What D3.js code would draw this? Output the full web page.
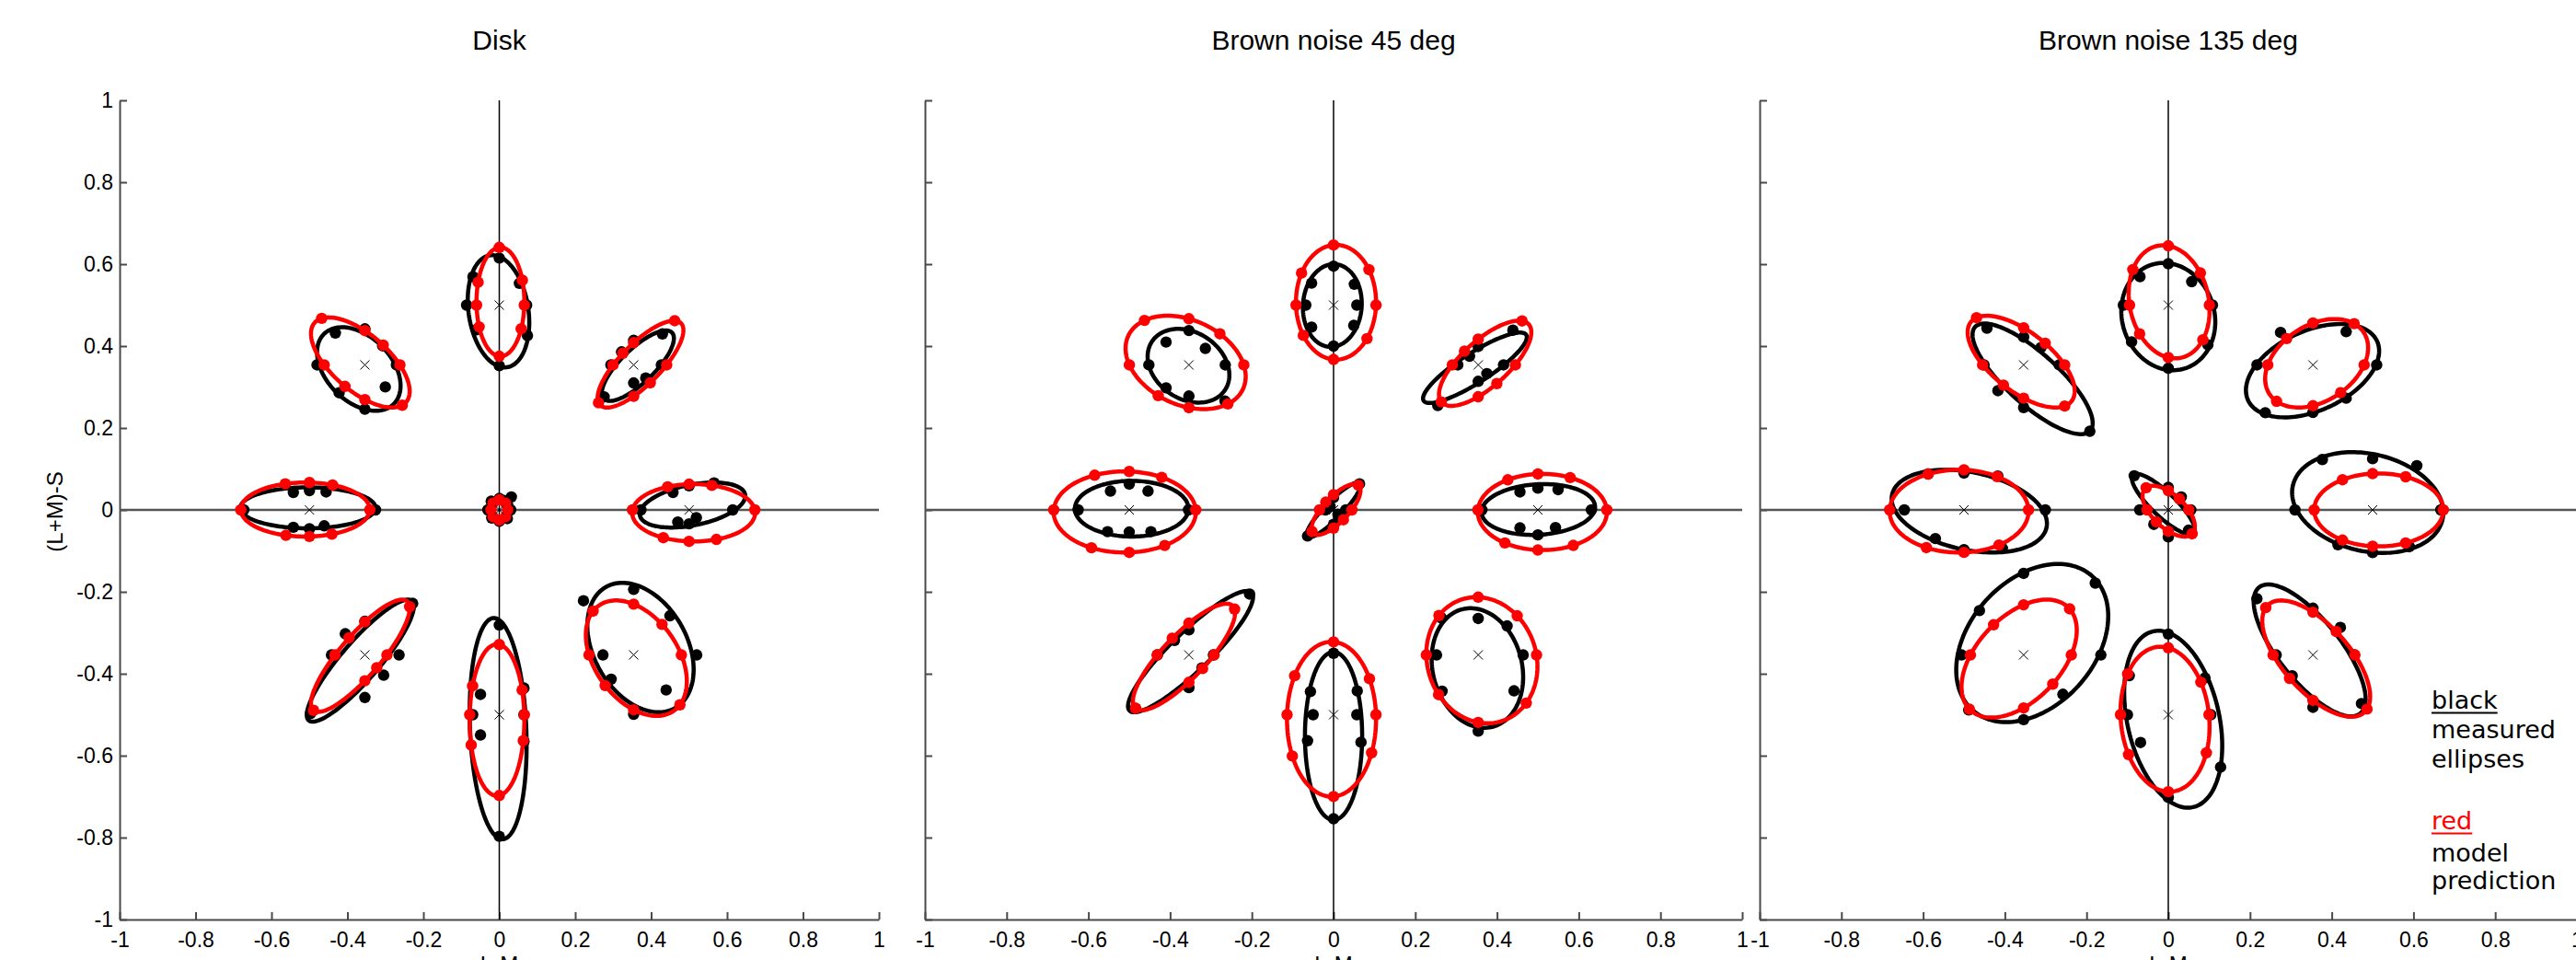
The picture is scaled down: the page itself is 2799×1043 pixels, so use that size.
<!DOCTYPE html>
<html>
<head>
<meta charset="utf-8">
<script src="https://cdn.jsdelivr.net/npm/d3@7"></script>
<style>
  body { margin: 0; background: #fff; }
  svg { display: block; }
</style>
</head>
<body>
<div id="chart"></div>
<script>
var panelTitles = ["Disk", "Brown noise 45 deg", "Brown noise 135 deg"];
var tickValues = [-1, -0.8, -0.6, -0.4, -0.2, 0, 0.2, 0.4, 0.6, 0.8, 1];
var xLabel = "L-M";
var yLabel = "(L+M)-S";

// test directions (deg) of the 8 measurements around each reference
var directions = [0, 45, 90, 135, 180, 225, 270, 315];
// reference points, order: E, NE, N, NW, W, SW, S, SE, centre
var references = [[0.5, 0], [0.354, 0.354], [0, 0.5], [-0.354, 0.354], [-0.5, 0],
                  [-0.354, -0.354], [0, -0.5], [0.354, -0.354], [0, 0]];

// ellipses: [cx, cy, sx, sy, rho]  (x half width, y half height, correlation)
var diskMeasuredEllipses = [
    [0.509, 0.012, 0.139, 0.055, 0.4], [0.365, 0.352, 0.095, 0.086, 0.78],
    [-0.002, 0.485, 0.081, 0.137, -0.2], [-0.37, 0.344, 0.11, 0.102, -0.4],
    [-0.504, 0.005, 0.178, 0.05, 0.0], [-0.366, -0.368, 0.141, 0.149, 0.89],
    [-0.003, -0.534, 0.075, 0.27, -0.15], [0.372, -0.336, 0.14, 0.158, -0.34],
    [0.002, 0.002, 0.03, 0.03, 0.2]
];
var diskModelEllipses = [
    [0.512, -0.007, 0.162, 0.07, 0], [0.372, 0.356, 0.113, 0.106, 0.78],
    [0.003, 0.508, 0.063, 0.133, 0], [-0.366, 0.36, 0.13, 0.11, -0.64],
    [-0.511, 0.001, 0.17, 0.066, 0], [-0.366, -0.356, 0.13, 0.137, 0.85],
    [-0.006, -0.513, 0.072, 0.185, 0], [0.361, -0.362, 0.133, 0.141, -0.4],
    [0, 0, 0.022, 0.025, 0]
];
// measured threshold distance along each test direction
var diskMeasuredRadii = [
    [0.115, 0.093, 0.059, 0.06, 0.127, 0.042, 0.034, 0.027],
    [0.073, 0.107, 0.06, 0.045, 0.06, 0.11, 0.044, 0.045],
    [0.072, 0.075, 0.115, 0.098, 0.086, 0.085, 0.148, 0.105],
    [0.083, 0.066, 0.088, 0.11, 0.126, 0.096, 0.108, 0.076],
    [0.174, 0.062, 0.047, 0.06, 0.173, 0.06, 0.046, 0.055],
    [0.09, 0.178, 0.082, 0.073, 0.088, 0.203, 0.104, 0.07],
    [0.065, 0.092, 0.219, 0.07, 0.07, 0.07, 0.297, 0.092],
    [0.166, 0.135, 0.16, 0.187, 0.081, 0.084, 0.145, 0.121],
    [0.03, 0.045, 0.028, 0.03, 0.03, 0.028, 0.028, 0.03]
];

var brown45MeasuredEllipses = [
    [0.501, 0.001, 0.139, 0.062, 0.1], [0.346, 0.347, 0.127, 0.086, 0.87],
    [-0.003, 0.499, 0.072, 0.101, 0.05], [-0.355, 0.352, 0.1, 0.09, -0.25],
    [-0.494, 0.003, 0.139, 0.068, 0], [-0.35, -0.346, 0.153, 0.148, 0.9],
    [0, -0.552, 0.07, 0.205, 0], [0.352, -0.386, 0.112, 0.146, -0.15],
    [0, 0, 0.066, 0.067, 0.9]
];
var brown45ModelEllipses = [
    [0.511, -0.005, 0.158, 0.093, 0], [0.371, 0.358, 0.113, 0.104, 0.73],
    [0.006, 0.507, 0.098, 0.14, 0], [-0.362, 0.36, 0.147, 0.114, -0.3],
    [-0.511, -0.005, 0.174, 0.099, 0], [-0.366, -0.359, 0.125, 0.13, 0.83],
    [-0.005, -0.511, 0.109, 0.189, 0], [0.363, -0.367, 0.136, 0.154, -0.1],
    [0.006, 0.001, 0.06, 0.062, 0.75]
];
var brown45MeasuredRadii = [
    [0.131, 0.07, 0.053, 0.062, 0.137, 0.062, 0.061, 0.061],
    [0.062, 0.12, 0.045, 0.03, 0.05, 0.14, 0.04, 0.03],
    [0.057, 0.072, 0.095, 0.076, 0.068, 0.076, 0.1, 0.07],
    [0.089, 0.057, 0.084, 0.079, 0.098, 0.079, 0.076, 0.125],
    [0.145, 0.065, 0.063, 0.065, 0.125, 0.075, 0.054, 0.075],
    [0.06, 0.21, 0.061, 0.05, 0.077, 0.185, 0.08, 0.045],
    [0.057, 0.082, 0.15, 0.08, 0.05, 0.09, 0.254, 0.095],
    [0.11, 0.1, 0.089, 0.128, 0.102, 0.125, 0.186, 0.124],
    [0.03, 0.09, 0.03, 0.012, 0.02, 0.09, 0.035, 0.015]
];

var brown135MeasuredEllipses = [
    [0.488, 0.018, 0.185, 0.123, -0.2], [0.353, 0.34, 0.163, 0.114, 0.42],
    [0, 0.472, 0.115, 0.131, -0.1], [-0.332, 0.32, 0.147, 0.135, -0.8],
    [-0.487, -0.003, 0.19, 0.101, -0.3], [-0.333, -0.325, 0.186, 0.193, 0.34],
    [0.012, -0.511, 0.12, 0.216, -0.3], [0.346, -0.343, 0.137, 0.161, -0.74],
    [-0.012, 0.014, 0.077, 0.074, -0.85]
];
var brown135ModelEllipses = [
    [0.515, 0, 0.158, 0.089, 0], [0.363, 0.358, 0.126, 0.108, 0.35],
    [0.002, 0.508, 0.099, 0.138, -0.15], [-0.36, 0.362, 0.131, 0.112, -0.64],
    [-0.512, -0.003, 0.17, 0.101, 0], [-0.365, -0.363, 0.141, 0.144, 0.48],
    [-0.008, -0.511, 0.109, 0.177, -0.1], [0.362, -0.363, 0.132, 0.142, -0.65],
    [0.001, -0.003, 0.064, 0.062, -0.6]
];
var brown135MeasuredRadii = [
    [0.167, 0.153, 0.125, 0.174, 0.19, 0.12, 0.104, 0.127],
    [0.156, 0.115, 0.1, 0.112, 0.137, 0.165, 0.116, 0.115],
    [0.108, 0.081, 0.101, 0.098, 0.11, 0.127, 0.154, 0.137],
    [0.087, 0.06, 0.068, 0.127, 0.097, 0.089, 0.104, 0.229],
    [0.199, 0.117, 0.09, 0.124, 0.146, 0.099, 0.097, 0.133],
    [0.189, 0.248, 0.199, 0.153, 0.152, 0.19, 0.158, 0.136],
    [0.104, 0.127, 0.197, 0.135, 0.1, 0.096, 0.202, 0.181],
    [0.101, 0.095, 0.114, 0.194, 0.09, 0.072, 0.128, 0.168],
    [0.055, 0.045, 0.055, 0.118, 0.07, 0.05, 0.066, 0.07]
];

var legendLines = [
    {text: "black", color: "#000", underline: true},
    {text: "measured", color: "#000"},
    {text: "ellipses", color: "#000"},
    {text: "red", color: "#ff0000", underline: true},
    {text: "model", color: "#000"},
    {text: "prediction", color: "#000"}
];
var legendBaselines = [770, 802, 834, 901, 936, 966];

var panels = [
    {title: panelTitles[0], measured: diskMeasuredEllipses, model: diskModelEllipses, radii: diskMeasuredRadii, left: 130, right: 955, labels: true},
    {title: panelTitles[1], measured: brown45MeasuredEllipses, model: brown45ModelEllipses, radii: brown45MeasuredRadii, left: 1005, right: 1893, labels: false},
    {title: panelTitles[2], measured: brown135MeasuredEllipses, model: brown135ModelEllipses, radii: brown135MeasuredRadii, left: 1912, right: 2800, labels: false}
];

var W = 2799, H = 1043;
var plotTop = 109, plotBottom = 999;
var axisFont = "'Liberation Sans', Arial, Helvetica, sans-serif";
var RED = "#ff0000";
var DOT_R = 6.2;

var svg = d3.select("#chart").append("svg")
    .attr("width", W)
    .attr("height", H)
    .style("background", "#fff");

function ellipseOutline(e) {
    var phi = Math.acos(e[4]);
    return d3.range(0, 144).map(function(k) {
        var t = k / 144 * 2 * Math.PI;
        return [e[0] + e[2] * Math.cos(t), e[1] + e[3] * Math.cos(t - phi)];
    });
}

// where a ray from the reference along angle deg meets the ellipse
function rayHit(ref, e, deg) {
    var a = e[2] * e[2], c = e[3] * e[3], b = e[4] * e[2] * e[3];
    var det = a * c - b * b;
    var m11 = c / det, m12 = -b / det, m22 = a / det;
    var dx = Math.cos(deg * Math.PI / 180), dy = Math.sin(deg * Math.PI / 180);
    var wx = ref[0] - e[0], wy = ref[1] - e[1];
    var A = dx * dx * m11 + 2 * dx * dy * m12 + dy * dy * m22;
    var B = dx * wx * m11 + (dx * wy + dy * wx) * m12 + dy * wy * m22;
    var C = wx * wx * m11 + 2 * wx * wy * m12 + wy * wy * m22 - 1;
    var disc = B * B - A * C;
    if (disc < 0) return null;
    var r = (-B + Math.sqrt(disc)) / A;
    return [ref[0] + r * dx, ref[1] + r * dy];
}

function fmtTick(d) {
    return String(Math.round(d * 10) / 10);
}

function drawPanel(p) {
    var x = d3.scaleLinear().domain([-1, 1]).range([p.left, p.right]);
    var y = d3.scaleLinear().domain([-1, 1]).range([plotBottom, plotTop]);
    var g = svg.append("g");

    var xAxis = d3.axisBottom(x)
        .tickValues(tickValues)
        .tickSize(-8)
        .tickSizeOuter(0)
        .tickPadding(14)
        .tickFormat(fmtTick);
    var yAxis = d3.axisLeft(y)
        .tickValues(tickValues)
        .tickSize(-8)
        .tickSizeOuter(0)
        .tickPadding(7)
        .tickFormat(p.labels ? fmtTick : function() { return ""; });

    var gx = g.append("g")
        .attr("transform", "translate(0," + plotBottom + ")")
        .call(xAxis);
    var gy = g.append("g")
        .attr("transform", "translate(" + p.left + ",0)")
        .call(yAxis);
    [gx, gy].forEach(function(ax) {
        ax.select(".domain").attr("stroke", "#4a4a4a").attr("stroke-width", 2);
        ax.selectAll(".tick line").attr("stroke", "#4a4a4a").attr("stroke-width", 2);
        ax.selectAll(".tick text")
            .attr("fill", "#000")
            .style("font-family", axisFont)
            .style("font-size", "23px");
    });

    // zero lines
    g.append("line")
        .attr("x1", x(-1)).attr("x2", x(1))
        .attr("y1", y(0)).attr("y2", y(0))
        .attr("stroke", "#555").attr("stroke-width", 2.5);
    g.append("line")
        .attr("x1", x(0)).attr("x2", x(0))
        .attr("y1", y(1)).attr("y2", y(-1))
        .attr("stroke", "#000").attr("stroke-width", 1.5);

    g.append("text")
        .attr("x", x(0))
        .attr("y", 54)
        .attr("text-anchor", "middle")
        .style("font-family", axisFont)
        .style("font-size", "30px")
        .text(p.title);

    g.append("text")
        .attr("x", x(0))
        .attr("y", 1056)
        .attr("text-anchor", "middle")
        .style("font-family", axisFont)
        .style("font-size", "24px")
        .text(xLabel);

    var line = d3.line()
        .x(function(d) { return x(d[0]); })
        .y(function(d) { return y(d[1]); })
        .curve(d3.curveLinearClosed);

    var measured = g.append("g");
    var model = g.append("g");
    var marks = g.append("g");

    references.forEach(function(ref, i) {
        measured.append("path")
            .attr("d", line(ellipseOutline(p.measured[i])))
            .attr("fill", "none")
            .attr("stroke", "#000")
            .attr("stroke-width", 4.5);
        directions.forEach(function(deg, k) {
            var r = p.radii[i][k];
            var a = deg * Math.PI / 180;
            measured.append("circle")
                .attr("cx", x(ref[0] + r * Math.cos(a)))
                .attr("cy", y(ref[1] + r * Math.sin(a)))
                .attr("r", DOT_R)
                .attr("fill", "#000");
        });

        model.append("path")
            .attr("d", line(ellipseOutline(p.model[i])))
            .attr("fill", "none")
            .attr("stroke", RED)
            .attr("stroke-width", 4.5);
        directions.forEach(function(deg) {
            var pt = rayHit(ref, p.model[i], deg);
            if (!pt) return;
            model.append("circle")
                .attr("cx", x(pt[0]))
                .attr("cy", y(pt[1]))
                .attr("r", DOT_R)
                .attr("fill", RED);
        });

        // reference cross
        var cx = x(ref[0]), cy = y(ref[1]);
        marks.append("path")
            .attr("d", "M" + (cx - 5) + "," + (cy - 5) + "L" + (cx + 5) + "," + (cy + 5) +
                       "M" + (cx - 5) + "," + (cy + 5) + "L" + (cx + 5) + "," + (cy - 5))
            .attr("stroke", "#000")
            .attr("stroke-width", 1);
    });
}

panels.forEach(drawPanel);

svg.append("text")
    .attr("transform", "translate(68,556) rotate(-90)")
    .attr("text-anchor", "middle")
    .style("font-family", axisFont)
    .style("font-size", "24px")
    .text(yLabel);

var legend = svg.append("g");
legendLines.forEach(function(l, i) {
    var t = legend.append("text")
        .attr("x", 2642)
        .attr("y", legendBaselines[i])
        .attr("fill", l.color)
        .style("font-family", "'DejaVu Sans', Verdana, sans-serif")
        .style("font-size", "27px")
        .text(l.text);
    if (l.underline) {
        var w = t.node().getComputedTextLength();
        legend.append("line")
            .attr("x1", 2642).attr("x2", 2642 + w)
            .attr("y1", legendBaselines[i] + 4.5).attr("y2", legendBaselines[i] + 4.5)
            .attr("stroke", l.color)
            .attr("stroke-width", 2);
    }
});
</script>
</body>
</html>
